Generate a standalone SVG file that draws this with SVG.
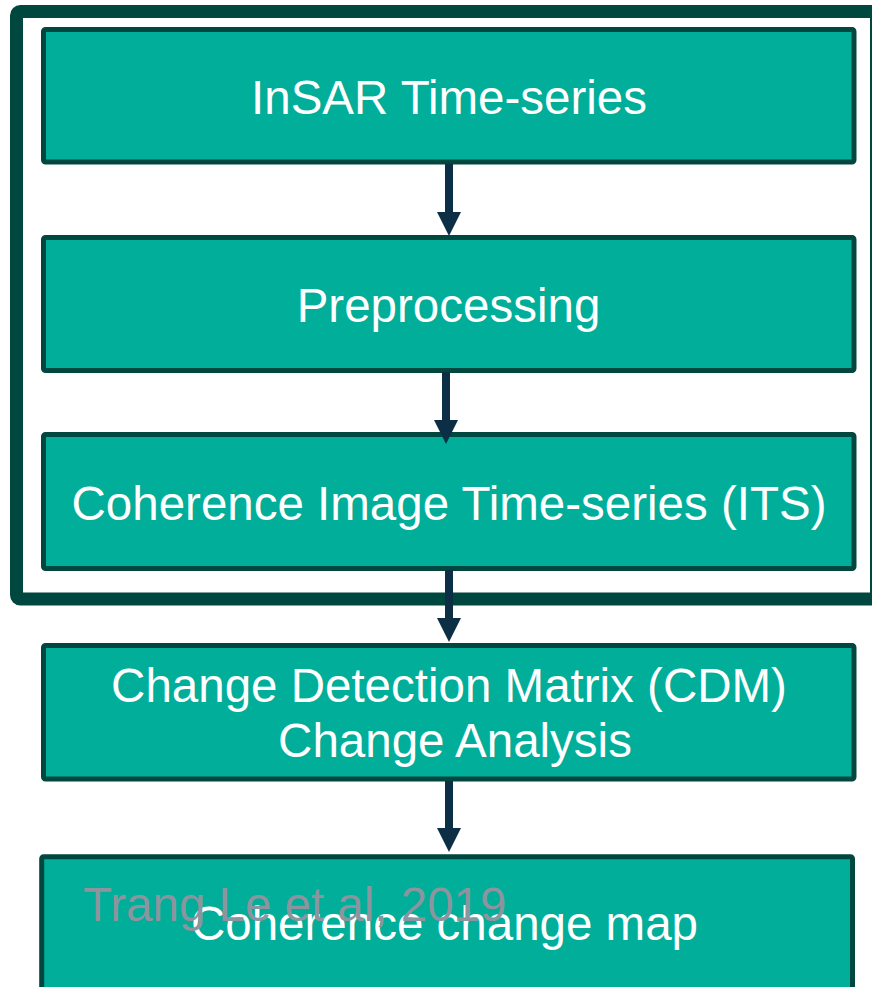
<svg xmlns="http://www.w3.org/2000/svg" width="872" height="987" viewBox="0 0 872 987">
  <style>
    .box { fill: #00AE9A; stroke: #00473F; stroke-width: 5; }
    .frame { fill: none; stroke: #00473F; stroke-width: 13; }
    .lbl { font-family: "Liberation Sans", Arial, sans-serif; font-size: 47.5px; fill: #FFFFFF; text-anchor: middle; }
    .cite { font-family: "Liberation Sans", Arial, sans-serif; font-size: 47.5px; fill: #8B959E; }
    .conn { stroke: #0D2F45; stroke-width: 8; fill: none; }
  </style>
  <defs>
    <marker id="arrow" markerUnits="userSpaceOnUse" markerWidth="24" markerHeight="24" viewBox="0 0 24 24" refX="0" refY="12" orient="auto" overflow="visible">
      <path d="M0,0 L24,12 L0,24 Z" fill="#0D2F45"/>
    </marker>
  </defs>
  <rect width="872" height="987" fill="#FFFFFF"/>
  <g id="frame">
    <rect class="frame" x="16.5" y="11.5" width="860" height="587.5" rx="4"/>
  </g>
  <g id="node-insar">
    <rect class="box" x="43.5" y="29.5" width="810.5" height="132.5" rx="2"/>
    <text class="lbl" x="449" y="114">InSAR Time-series</text>
  </g>
  <g id="node-preprocessing">
    <rect class="box" x="43.5" y="237.5" width="810.5" height="133" rx="2"/>
    <text class="lbl" x="448.5" y="322">Preprocessing</text>
  </g>
  <g id="node-its">
    <rect class="box" x="43.5" y="434.5" width="810.5" height="134" rx="2"/>
    <text class="lbl" x="449" y="519.5">Coherence Image Time-series (ITS)</text>
  </g>
  <g id="node-cdm">
    <rect class="box" x="43.5" y="645.5" width="810.5" height="133.5" rx="2"/>
    <text class="lbl" x="449" y="702">Change Detection Matrix (CDM)</text>
    <text class="lbl" x="455" y="757">Change Analysis</text>
  </g>
  <g id="node-map">
    <rect class="box" x="41.7" y="856.8" width="810.8" height="145" rx="2"/>
    <text class="lbl" x="444.5" y="940">Coherence change map</text>
  </g>
  <g id="citation">
    <text class="cite" x="83" y="921">Trang Le et al, 2019</text>
  </g>
  <g id="connectors">
    <line class="conn" x1="449" y1="164" x2="449" y2="212" marker-end="url(#arrow)"/>
    <line class="conn" x1="446" y1="372" x2="446" y2="420" marker-end="url(#arrow)"/>
    <line class="conn" x1="449" y1="570" x2="449" y2="618" marker-end="url(#arrow)"/>
    <line class="conn" x1="449" y1="781" x2="449" y2="828" marker-end="url(#arrow)"/>
  </g>
</svg>
